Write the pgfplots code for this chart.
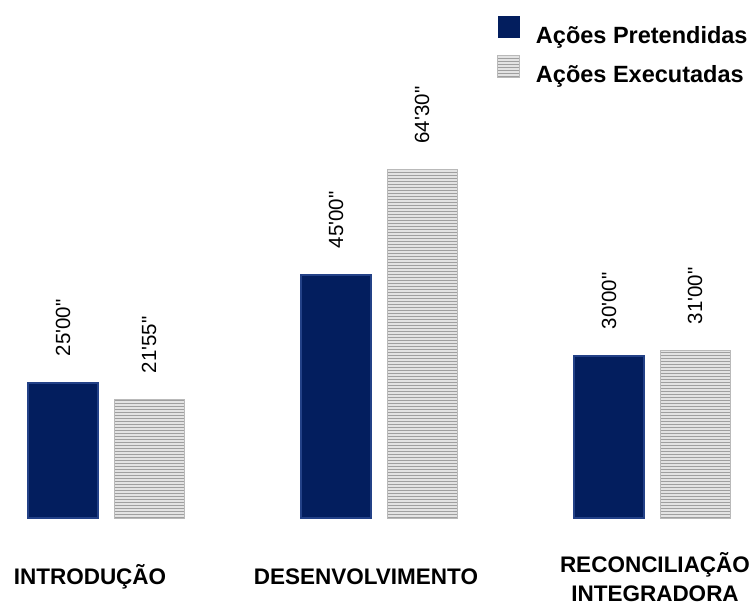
\documentclass[border=0pt]{standalone}
\usepackage{fontspec}
\setmainfont{Liberation Sans}
\newfontfamily\plainsans{Liberation Sans}
\usepackage{pgfplots}
\pgfplotsset{compat=1.18}
\usetikzlibrary{patterns}
\definecolor{navy}{RGB}{3,30,94}
\definecolor{navyedge}{RGB}{35,65,135}

\begin{document}
\begin{tikzpicture}
\begin{axis}[
    scale only axis,
    width=756pt, height=601pt,
    xmin=-0.3883, xmax=2.381,
    ymin=-15.37, ymax=95.93,
    ybar=16pt, bar width=70pt,
    axis line style={draw=none},
    ymajorticks=false,
    major tick length=0pt,
    xtick={-0.0586,0.952,2.011},
    xticklabels={INTRODUÇÃO, DESENVOLVIMENTO, {RECONCILIAÇÃO\\INTEGRADORA}},
    xticklabel style={align=center, font=\bfseries\fontsize{22.5}{29}\selectfont,
        anchor=center, yshift=24pt},
    nodes near coords,
    point meta=explicit symbolic,
    every node near coord/.append style={font=\plainsans\fontsize{20.5}{24}\selectfont,
        rotate=90, anchor=west, inner xsep=26pt, text=black},
    clip=false,
    legend style={at={(rel axis cs:0.6574,0.9734)}, anchor=north west,
        draw=none, fill=none, inner sep=0pt, row sep=9.5pt,
        font=\bfseries\fontsize{23.5}{28}\selectfont,
        nodes={inner sep=0pt},
        /tikz/every odd column/.append style={column sep=16pt}},
    legend cell align=left,
    legend image code/.code={\path[#1,draw=none] (0pt,-2.5pt) rectangle (22pt,19.5pt);},
]
\addplot[fill=navy, draw=navyedge, line width=1.5pt] coordinates {
    (0,25)     [25'00"]
    (1,45)     [45'00"]
    (2,30)     [30'00"]
};
\addplot[fill=gray!22, draw=gray!55, line width=0.8pt,
    postaction={pattern=horizontal lines, pattern color=gray!75}] coordinates {
    (0,21.917) [21'55"]
    (1,64.5)   [64'30"]
    (2,31)     [31'00"]
};
\legend{Ações Pretendidas, Ações Executadas}
\end{axis}
\end{tikzpicture}
\end{document}
